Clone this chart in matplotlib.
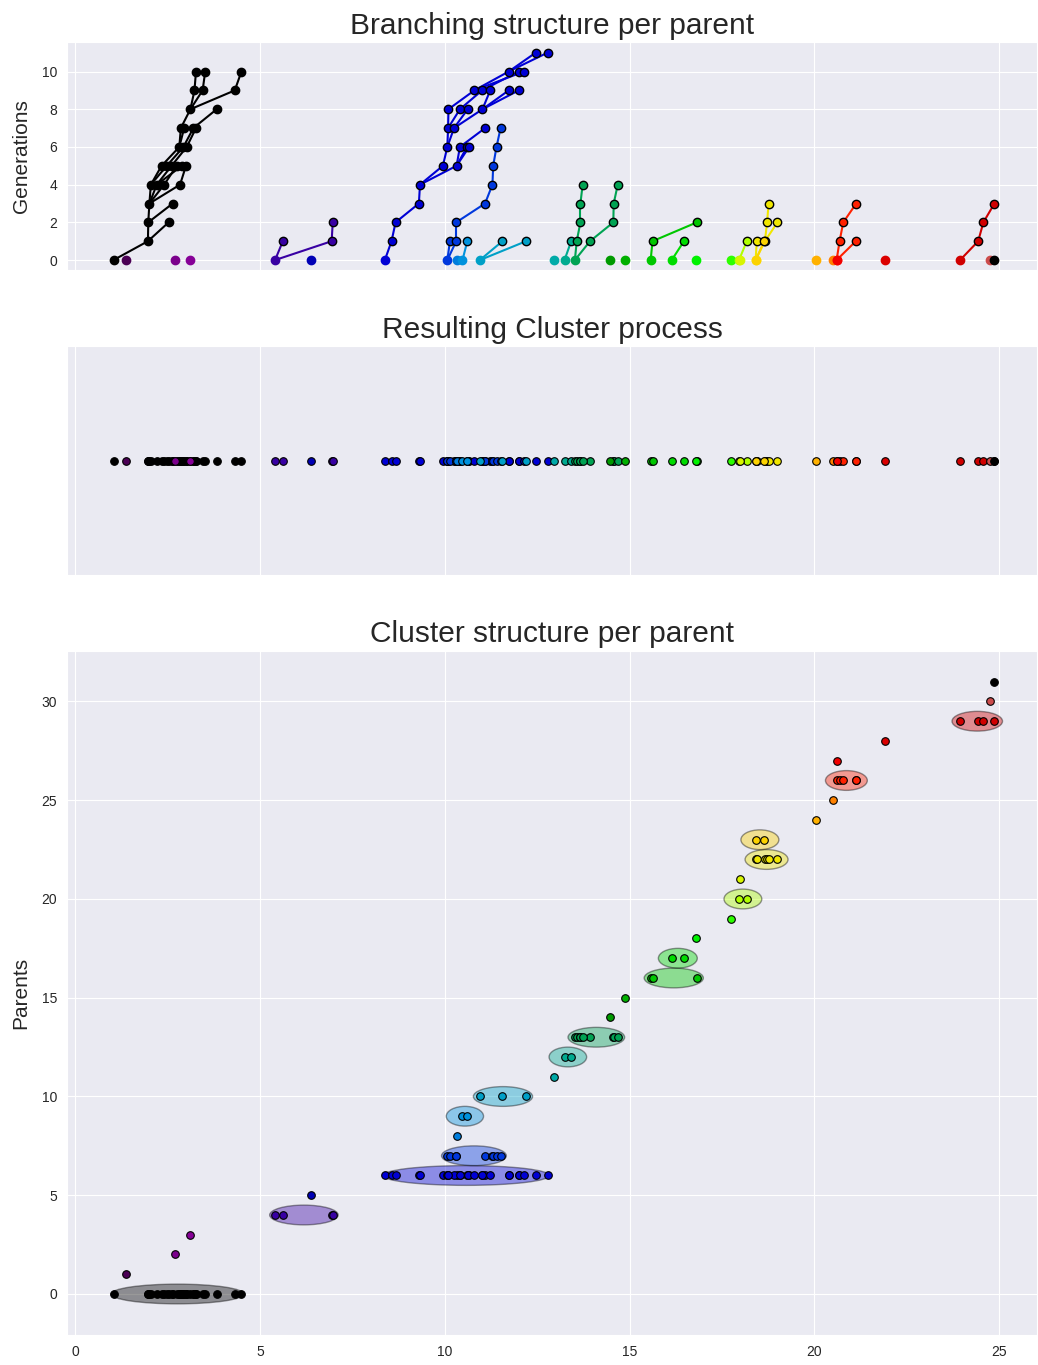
import numpy as np
import matplotlib.pyplot as plt
import seaborn as sns
from matplotlib.patches import Ellipse

sns.set_style('darkgrid')
plt.rcParams['font.family'] = ['Liberation Sans', 'DejaVu Sans']

# event times, generation and mother (index inside the cluster, -1 = immigrant), one list per parent
times = [
    [1.04, 1.97, 1.98, 2.53, 2.01, 2.64, 2.05, 2.21, 2.41, 2.84, 2.34, 2.48, 2.61, 2.75, 2.89, 3.00,
     2.82, 2.93, 3.02, 2.86, 2.95, 3.20, 3.27, 3.12, 3.83, 3.23, 3.45, 4.32, 3.27, 3.52, 4.50],
    [1.37],
    [2.70],
    [3.12],
    [5.41, 5.62, 6.94, 6.97],
    [6.38],
    [8.38, 8.56, 8.67, 9.30, 9.33, 9.95, 10.32, 10.07, 10.41, 10.60, 10.66, 10.09, 10.25, 11.09,
     10.10, 10.41, 10.62, 11.02, 10.80, 11.01, 11.23, 11.73, 12.00, 11.73, 12.00, 12.14, 12.46, 12.78],
    [10.07, 10.14, 10.31, 10.31, 11.09, 11.29, 11.31, 11.40, 11.51],
    [10.32],
    [10.48, 10.61],
    [10.95, 11.56, 12.20],
    [12.96],
    [13.24, 13.42],
    [13.52, 13.57, 13.93, 13.67, 14.56, 13.67, 14.57, 13.73, 14.68],
    [14.47],
    [14.88],
    [15.57, 15.62, 16.82],
    [16.14, 16.47],
    [16.79],
    [17.73],
    [17.96, 18.17],
    [18.00],
    [18.41, 18.44, 18.66, 18.72, 19.00, 18.76],
    [18.41, 18.64],
    [20.04],
    [20.49],
    [20.60, 20.68, 21.12, 20.78, 21.13],
    [20.62],
    [21.91],
    [23.94, 24.43, 24.57, 24.87],
    [24.75],
    [24.86],
]
gens = [
    [0, 1, 2, 2, 3, 3, 4, 4, 4, 4, 5, 5, 5, 5, 5, 5, 6, 6, 6, 7, 7, 7, 7, 8, 8, 9, 9, 9, 10, 10, 10],
    [0], [0], [0],
    [0, 1, 1, 2],
    [0],
    [0, 1, 2, 3, 4, 5, 5, 6, 6, 6, 6, 7, 7, 7, 8, 8, 8, 8, 9, 9, 9, 9, 9, 10, 10, 10, 11, 11],
    [0, 1, 1, 2, 3, 4, 5, 6, 7],
    [0],
    [0, 1],
    [0, 1, 1],
    [0],
    [0, 1],
    [0, 1, 1, 2, 2, 3, 3, 4, 4],
    [0], [0],
    [0, 1, 2],
    [0, 1],
    [0], [0],
    [0, 1],
    [0],
    [0, 1, 1, 2, 2, 3],
    [0, 1],
    [0], [0],
    [0, 1, 1, 2, 3],
    [0], [0],
    [0, 1, 2, 3],
    [0], [0],
]
mothers = [
    [-1, 0, 1, 1, 2, 2, 4, 4, 4, 4, 6, 6, 7, 8, 7, 9, 10, 11, 12, 16, 16, 17, 18, 19, 21, 23, 23, 23, 25, 26, 27],
    [-1], [-1], [-1],
    [-1, 0, 0, 2],
    [-1],
    [-1, 0, 1, 2, 3, 4, 4, 5, 6, 6, 6, 7, 7, 8, 11, 11, 12, 12, 14, 15, 17, 17, 17, 18, 19, 18, 23, 23],
    [-1, 0, 0, 2, 3, 4, 5, 6, 7],
    [-1],
    [-1, 0],
    [-1, 0, 0],
    [-1],
    [-1, 0],
    [-1, 0, 0, 1, 2, 3, 4, 5, 6],
    [-1], [-1],
    [-1, 0, 1],
    [-1, 0],
    [-1], [-1],
    [-1, 0],
    [-1],
    [-1, 0, 0, 2, 2, 3],
    [-1, 0],
    [-1], [-1],
    [-1, 0, 0, 1, 3],
    [-1], [-1],
    [-1, 0, 1, 2],
    [-1], [-1],
]

n = len(times)
cmap = plt.cm.nipy_spectral
colors = [cmap(i / (n - 1)) for i in range(n)]
colors[-1] = 'k'

fig, (ax1, ax2, ax3) = plt.subplots(3, 1, sharex=True, figsize=(10.38, 13.65),
                                    gridspec_kw={'height_ratios': [1, 1, 3]})
fig.subplots_adjust(left=0.0645, right=0.999, top=0.969, bottom=0.022, hspace=0.2)

for i in range(n):
    t = np.array(times[i])
    g = np.array(gens[i])
    m = mothers[i]
    c = colors[i]

    # branching tree
    for j in range(len(t)):
        if m[j] >= 0:
            ax1.plot([t[m[j]], t[j]], [g[m[j]], g[j]], '-', color=c, lw=1.5, zorder=1)
    ax1.plot(t[1:], g[1:], 'o', color=c, mec='k', ms=6, zorder=2)
    ax1.plot(t[:1], g[:1], 'o', color=c, ms=6, zorder=2)

    # all events on a line
    ax2.scatter(t, np.zeros(len(t)), color=c, edgecolor='k', s=30, lw=0.8, zorder=2)

    # per parent
    ax3.scatter(t, np.full(len(t), i), color=c, edgecolor='k', s=30, lw=0.8, zorder=3)
    if len(t) > 1:
        span = t.max() - t.min()
        ax3.add_patch(Ellipse(((t.max() + t.min()) / 2, i), np.hypot(span, 1.0), 1.0,
                              facecolor=c, edgecolor='k', alpha=0.4, zorder=2))

ax1.set_title('Branching structure per parent', fontsize=21.5)
ax1.set_ylabel('Generations', fontsize=15, labelpad=8)
ax1.set_yticks(range(0, 11, 2))

ax2.set_title('Resulting Cluster process', fontsize=21.5)
ax2.set_yticks([])

ax3.set_title('Cluster structure per parent', fontsize=21.5)
ax3.set_ylabel('Parents', fontsize=15, labelpad=8)
ax3.autoscale_view()
ax3.set_xlim(-0.22, 26.02)

for ax in (ax1, ax2, ax3):
    ax.tick_params(labelsize=10)

plt.savefig('out.png', dpi=100)
